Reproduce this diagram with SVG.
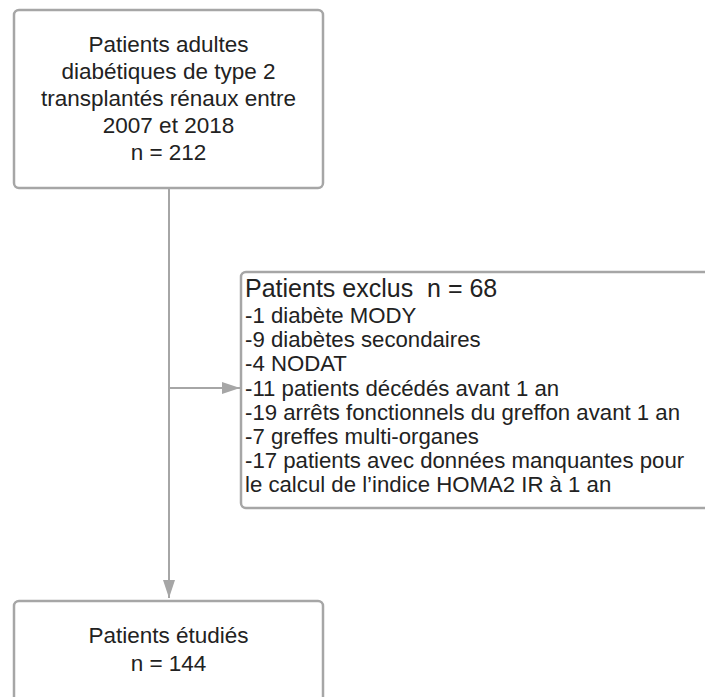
<svg xmlns="http://www.w3.org/2000/svg" width="705" height="697" viewBox="0 0 705 697">
<defs>
<style>
.box{fill:#ffffff;stroke:#a6a6a6;stroke-width:2.5}
.t{font-family:"Liberation Sans",Arial,sans-serif;font-size:22.5px;fill:#222222}
.c{text-anchor:middle}
.b{font-family:"Liberation Sans",Arial,sans-serif;font-size:22.2px;fill:#222222}
.h{font-family:"Liberation Sans",Arial,sans-serif;font-size:25px;fill:#222222}
.ln{fill:none;stroke:#a6a6a6;stroke-width:2}
</style>
<marker id="ah" markerWidth="18" markerHeight="12" refX="18" refY="6" orient="auto" markerUnits="userSpaceOnUse">
<path d="M0,0 L18,6 L0,12 Z" fill="#a6a6a6"/>
</marker>
</defs>
<rect width="705" height="697" fill="#ffffff"/>
<g id="connectors">
<line class="ln" x1="169" y1="189" x2="169" y2="598" marker-end="url(#ah)"/>
<line class="ln" x1="169" y1="388" x2="240" y2="388" marker-end="url(#ah)"/>
</g>
<g id="node-start">
<rect class="box" x="14" y="10" width="309" height="178" rx="5"/>
<text class="t c" x="168.5" y="52">Patients adultes</text>
<text class="t c" x="168.5" y="79">diabétiques de type 2</text>
<text class="t c" x="168.5" y="106">transplantés rénaux entre</text>
<text class="t c" x="168.5" y="133">2007 et 2018</text>
<text class="t c" x="168.5" y="160">n = 212</text>
</g>
<g id="node-excluded">
<rect class="box" x="241" y="272" width="480" height="236" rx="5"/>
<text class="h" x="245" y="297" xml:space="preserve">Patients exclus  n = 68</text>
<text class="b" x="245" y="323">-1 diabète MODY</text>
<text class="b" x="245" y="347">-9 diabètes secondaires</text>
<text class="b" x="245" y="371">-4 NODAT</text>
<text class="b" x="245" y="396">-11 patients décédés avant 1 an</text>
<text class="b" x="245" y="420">-19 arrêts fonctionnels du greffon avant 1 an</text>
<text class="b" x="245" y="444">-7 greffes multi-organes</text>
<text class="b" x="245" y="468">-17 patients avec données manquantes pour</text>
<text class="b" x="245" y="492">le calcul de l’indice HOMA2 IR à 1 an</text>
</g>
<g id="node-studied">
<rect class="box" x="14" y="601" width="309" height="120" rx="5"/>
<text class="t c" x="168.5" y="643">Patients étudiés</text>
<text class="t c" x="168.5" y="671">n = 144</text>
</g>
</svg>
